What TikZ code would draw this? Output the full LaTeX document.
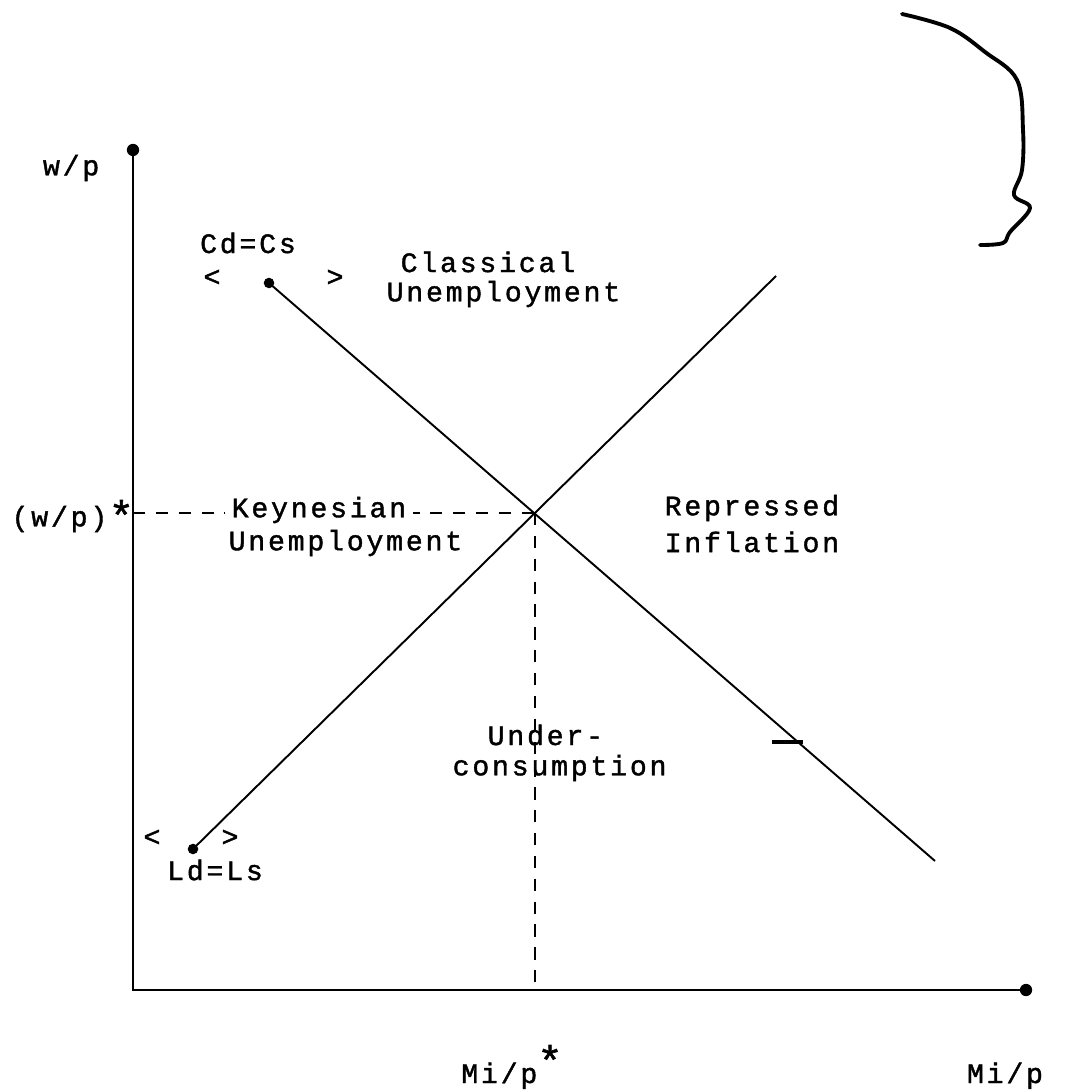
\documentclass[tikz,border=0pt]{standalone}
\usepackage{fontspec}
\setmonofont[LetterSpace=10,FakeBold=1.4]{Liberation Mono}
\newcommand{\bigstar}{\raisebox{0.5ex}{\fontsize{12}{12}\selectfont *}}
\begin{document}
\begin{tikzpicture}[x=0.01cm,y=-0.01cm,
  lbl/.style={font=\ttfamily\fontsize{8}{9}\selectfont, inner sep=0pt, anchor=west},
  lblc/.style={font=\ttfamily\fontsize{8}{9}\selectfont, inner sep=0pt},
  axis/.style={line width=0.7pt},
  curve/.style={line width=0.55pt},
  guide/.style={line width=0.55pt, dash pattern=on 3.5pt off 3pt},
  enddot/.style={circle, fill=black, inner sep=0pt, minimum size=3pt}]
\useasboundingbox (0,0) rectangle (1074,1092);
% axes
\node[enddot, minimum size=3.5pt] (ytop) at (133,150) {};
\coordinate (orig) at (133,990);
\node[enddot, minimum size=3.5pt] (xend) at (1026,990) {};
\draw[axis] (ytop.center) -- (orig) -- (xend.center);
% lines
\node[enddot] (cdtop) at (269,283) {};
\coordinate (cdbot) at (935,861);
\node[enddot] (ldbot) at (193,849) {};
\coordinate (ldtop) at (776,276);
\draw[curve] (cdtop.center) -- (cdbot);
\draw[curve] (ldbot.center) -- (ldtop);
\coordinate (eq) at (535,513);
\coordinate (yeq) at (133,513);
\coordinate (xeq) at (535,990);
\draw[guide] (yeq) -- (eq);
\draw[guide] (eq) -- (xeq);
% axis labels
\node[lblc, anchor=east] (wp) at (100,168) {w/p};
\node[lblc, anchor=east] (wps) at (108,519) {(w/p)};
\node[lblc, anchor=west] (wpst) at (wps.east) {\bigstar};
\node[lblc, anchor=base] (mps) at (512,1083) {Mi/p\bigstar};
\node[lblc, anchor=base] (mp) at (1005,1083) {Mi/p};
% curve labels
\node[lblc] (cdcs) at (248,243) {Cd=Cs};
\node[lblc] (cl) at (212,278) {<};
\node[lblc] (cr) at (335,278) {>};
\node[lblc] (ldls) at (215,870) {Ld=Ls};
\node[lblc] (ll) at (152,838) {<};
\node[lblc] (lr) at (230,838) {>};
% regions
\node[lbl] (class1) at (400,262) {Classical};
\node[lbl] (class2) at (386,294) {Unemployment};
\node[lbl, fill=white, inner xsep=2pt] (key1) at (224,510) {Keynesian};
\node[lbl] (key2) at (228,543) {Unemployment};
\node[lbl] (rep1) at (664,508) {Repressed};
\node[lbl] (rep2) at (664,542) {Inflation};
\node[lbl] (und1) at (487,735) {Under-};
\node[lbl] (und2) at (452,768) {consumption};
% small mark on line
\draw[line width=1.4pt] (772,742) -- (803,742);
% hand-drawn curve
\draw[line width=1.1pt, line cap=round, line join=round] plot[smooth, tension=0.6] coordinates {(902,14) (950,28) (985,52) (1017,80) (1023,130) (1022,170) (1014,195) (1030,208) (1010,232) (1003,243) (980,245)};
\end{tikzpicture}
\end{document}
